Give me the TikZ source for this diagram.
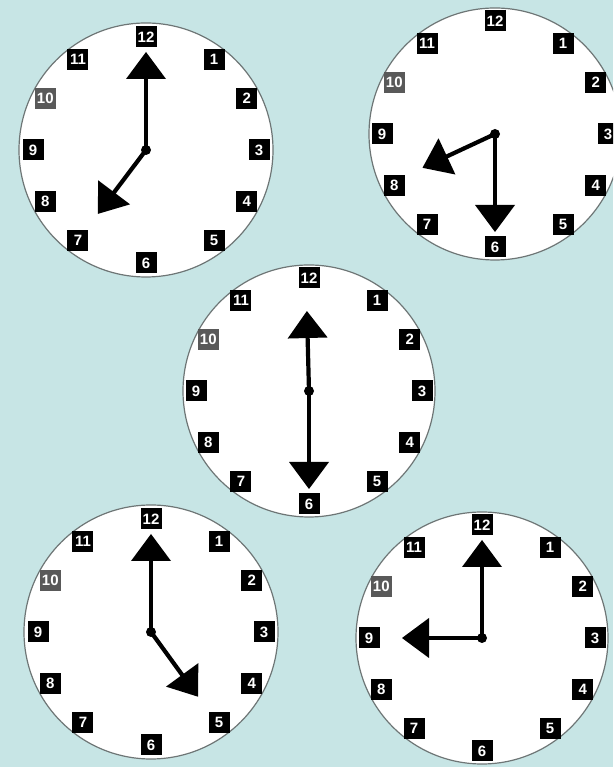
\documentclass[tikz,border=0pt]{standalone}
\usepackage{fontspec}
\setmainfont{Liberation Sans}
\usetikzlibrary{calc}
\definecolor{bg}{RGB}{199,229,229}
\definecolor{rim}{RGB}{110,118,118}
\tikzset{
  numlabel/.style={fill=black, text=white, font=\bfseries\fontsize{15}{15}\selectfont,
    inner sep=1.5pt, minimum height=21pt, minimum width=21pt},
  dimlabel/.style={numlabel, fill=black!65},
  face/.style={circle, fill=white, draw=rim, line width=1.2pt, inner sep=0pt},
  handline/.style={line width=4.2pt, black},
  handtip/.style={fill=black},
}
% label angles (slightly pulled toward the diagonals, as in the reference)
\newcommand\labelangle[1]{%
  \ifcase#1\or 53\or 27\or 0\or -27\or -53\or -90\or -127\or -153\or 180\or 153\or 127\or 90\fi}
\newcommand\makeclock[6]{%
  \node[face, minimum size=#4*2pt] (#1) at (#2,#3) {};
  \foreach \h in {1,...,12}{%
    \ifnum\h=10
      \node[dimlabel] (#1-\h) at ($(#1.center)+(\labelangle{\h}:113pt)$) {\h};
    \else
      \node[numlabel] (#1-\h) at ($(#1.center)+(\labelangle{\h}:113pt)$) {\h};
    \fi
  }
  \begin{scope}[shift={(#2,#3)}, rotate=#5]
    \draw[handline] (0,0) -- (56,0);
    \fill[handtip] (80,0) -- (53,20) -- (53,-20) -- cycle;
  \end{scope}
  \begin{scope}[shift={(#2,#3)}, rotate=#6]
    \draw[handline] (0,0) -- (74,0);
    \fill[handtip] (98,0) -- (71,20) -- (71,-20) -- cycle;
  \end{scope}
  \fill[black] (#2,#3) circle (5pt);
}
\begin{document}
\begin{tikzpicture}[x=1pt,y=1pt]
  \fill[bg] (0,0) rectangle (613,767);
  \clip (0,0) rectangle (613,767);
  \makeclock{c1}{146}{617}{127}{233}{90}
  \makeclock{c2}{495}{633}{126}{205}{270}
  \makeclock{c3}{309}{376}{126}{91.5}{270}
  \makeclock{c4}{151}{135}{127}{-54}{90}
  \makeclock{c5}{482}{129}{126}{180}{90}
\end{tikzpicture}
\end{document}
